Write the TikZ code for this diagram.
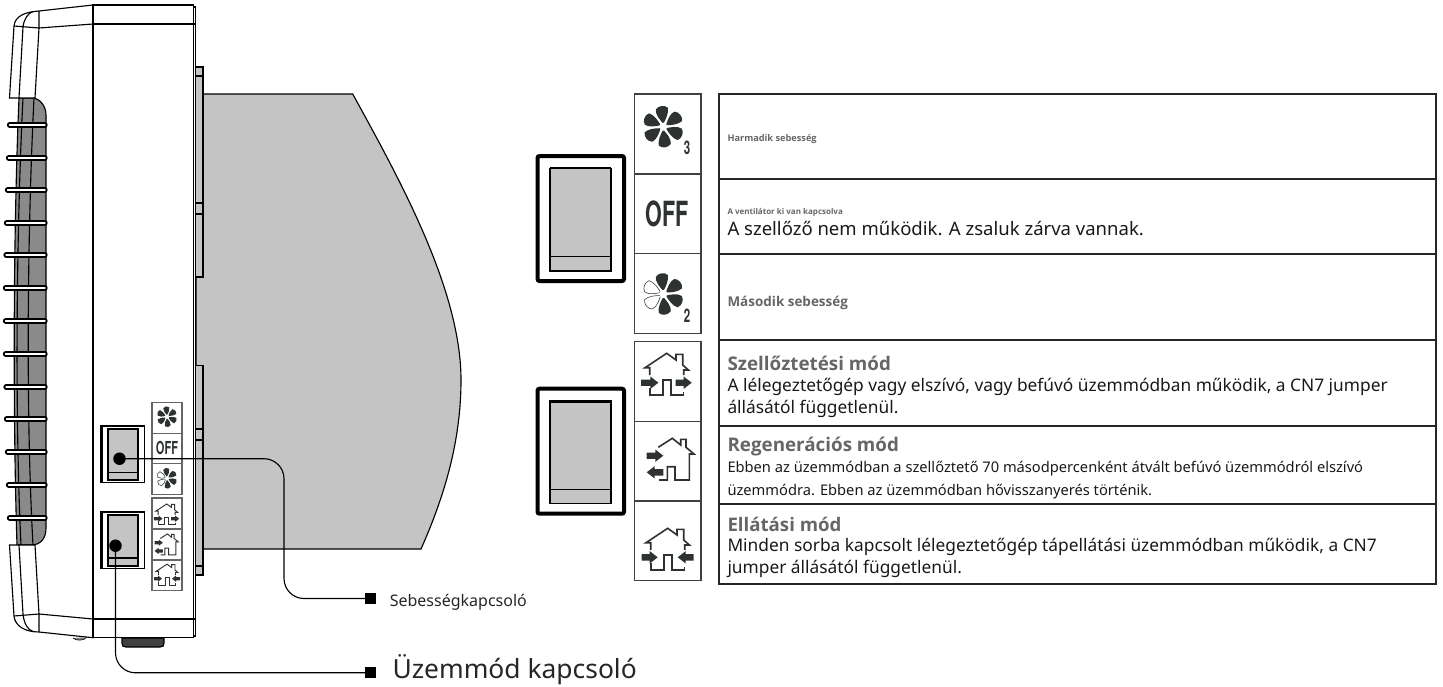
\documentclass[tikz,border=0pt]{standalone}
\usepackage{fontspec}
\setmainfont{Noto Sans}
\newfontfamily\headfont{Open Sans}
\newfontfamily\iconfont{TeX Gyre Heros}
\definecolor{panelgrey}{HTML}{C4C4C4}
\definecolor{grillgrey}{HTML}{8A8A8A}
\definecolor{inkgrey}{HTML}{2E3232}
\definecolor{headgrey}{HTML}{666666}
\tikzset{
  every picture/.style={line width=0.75pt},
  outline/.style={draw=black,line width=0.85pt},
  fin/.style={draw=black,line cap=round,line width=1.5pt,double=white,double distance=1pt},
  cellbox/.style={draw=black!75,line width=0.9pt,fill=white},
  rowbox/.style={draw=black!85,line width=0.9pt},
  plant/.style={draw=inkgrey,line width=1.2pt,line join=miter},
  solid blade/.style={fill=inkgrey},
  open blade/.style={draw=inkgrey,line width=0.4pt,fill=white},
  leader/.style={draw=black,line width=0.85pt,rounded corners=15pt},
  dotmark/.style={circle,fill=black,inner sep=0pt,minimum size=12.5*0.75pt},
  squaremark/.style={rectangle,fill=black,inner sep=0pt,minimum size=11*0.75pt},
  basetext/.style={anchor=base west,inner sep=0pt},
  callout/.style={basetext,text=black!85},
  rowhead/.style={basetext,text=headgrey},
  rowline/.style={basetext,text=black!90,font=\fontsize{13}{16}\selectfont},
  rowsmall/.style={basetext,text=black!90,font=\fontsize{11}{13}\selectfont},
}
% one fan blade pointing along x, rotated by the loop
\newcommand{\bladepath}{(3,0) .. controls (7,-3.5) and (12,-8) .. (17,-7.5) .. controls (21,-5.5) and (22,1) .. (19,4.5) .. controls (14,5.5) and (8,3) .. cycle}
\newcommand{\fanglyph}[1]{%
  \foreach \a in {30,90,270,330} {\path[solid blade,rotate=\a] \bladepath;}
  \foreach \a in {150,210} {\path[#1,rotate=\a] \bladepath;}
  \path[fill=white] (0,0) circle (4);
}
\newcommand{\arrowglyph}[4]{% tail x, tip x, y, direction
  \path[fill=inkgrey] (#1,#3-3.2) -- ({#2-#4*8},#3-3.2) -- ({#2-#4*8},#3-6.2) -- (#2,#3) -- ({#2-#4*8},#3+6.2) -- ({#2-#4*8},#3+3.2) -- (#1,#3+3.2) -- cycle;
}
\newcommand{\houseglyph}{%
  \draw[plant] (-17,0) -- (-17,-7.3) -- (-21.7,-7.3) -- (0,-21.7) -- (9.3,-15) -- (9.3,-20.7) -- (16,-20.7) -- (16,-10) -- (21.7,-5) -- (17,-5) -- (17,0);
  \draw[plant] (-16.7,13.3) -- (-16.7,20) -- (-4,20) -- (-4,5) -- (4,5) -- (4,20) -- (16.7,20) -- (16.7,16.7);
}
\newcommand{\regenglyph}{%
  \draw[plant] (-12.7,-7.7) -- (1.3,-16.7) -- (9.7,-10) -- (9.7,-15.7) -- (15,-15.7) -- (15,-7.7) -- (23,-1) -- (18.3,-1) -- (18.3,25) -- (4,25) -- (4,11.7) -- (-3.7,11.7) -- (-3.7,25) -- (-12,25);
  \arrowglyph{-24.3}{-7.7}{0.7}{1}
  \arrowglyph{-7.7}{-24.3}{17.3}{-1}
}

\begin{document}
\begin{tikzpicture}[x=0.75pt,y=0.75pt,yscale=-1,xscale=1]
  \useasboundingbox (0,0) rectangle (1443,686);

  % Grey air duct behind the unit
  \draw[outline,fill=panelgrey] (196,94) -- (352.7,94) .. controls (400,180) and (461,290) .. (461,380) .. controls (461,440) and (445,495) .. (421,549) -- (196,549) -- cycle;
  % Mounting plates
  \draw[outline,fill=panelgrey] (195.5,67) rectangle (203,277);
  \draw[outline,fill=panelgrey] (195.5,365.5) rectangle (203,575);
  \foreach \y in {76,203,214,429,440,566} {\draw[outline] (195.5,\y) -- (203,\y);}

  % Grille
  \draw[outline,fill=grillgrey] (19,98) -- (33,98) .. controls (41,99) and (46,107) .. (46,115) -- (46,528) .. controls (46,538) and (41,545) .. (31,545) -- (17,545) .. controls (13,420) and (13,240) .. (19,98) -- cycle;
  \draw[outline] (23,98) .. controls (16,240) and (15,420) .. (21,545);
  \draw[outline] (34,98) .. controls (27,240) and (26,420) .. (33,545);
  \foreach \y/\x in {125/8,158/7,190/6,223/5,255/4.5,288/4,321/4,354/4,387/4.5,419/5,452/6,485/7,518/8} {
    \draw[fin] (\x+1.5,\y) -- (45,\y);
  }

  % Top and bottom covers
  \draw[outline,fill=white] (93,5) -- (39,11) .. controls (25,12) and (15,16) .. (14,26) -- (9.5,98) -- (35,98) -- (39,28) -- (93,24) -- cycle;
  \draw[outline] (14,26) -- (39,28) -- (39,11);
  \draw[outline] (33,11.5) .. controls (28,13) and (24,19) .. (23,27) -- (19,98);
  \draw[outline,fill=white] (9.5,545) -- (14,616) .. controls (15,626) and (25,632) .. (39,632) -- (93,637.7) -- (93,619) -- (39,614) -- (35,545) -- cycle;
  \draw[outline] (14,616) -- (39,614) -- (39,632);
  \draw[outline] (19,545) -- (23,614) .. controls (24,624) and (28,630) .. (33,631.5);
  \draw[line width=0.5pt,fill=grillgrey] (73,638) .. controls (76,641) and (84,641) .. (87,637);

  % Main body
  \draw[outline,fill=white] (93,5) rectangle (193.7,637.7);
  \draw[outline] (193.7,7) -- (195.7,7) -- (195.7,636) -- (193.7,636);
  \draw[outline] (93,24) -- (195.7,24);
  \draw[outline] (93,619) -- (195.7,619);
  \draw[outline,fill=black!75] (122,638) -- (164,638) -- (164,643) .. controls (164,646) and (163,647) .. (160,647) -- (126,647) .. controls (123,647) and (122,646) .. (122,643) -- cycle;

  % Small switches on the body
  \foreach \t/\i/\l in {425.7/429/472.3,511.7/515/558} {
    \draw[outline,fill=white] (101,\t) rectangle (144.5,\t+56.8);
    \draw[line width=1.6pt] (101.5,\t+56.8) -- (101.5,\t) -- (144.5,\t);
    \draw[outline,fill=panelgrey] (108,\i) rectangle (138,\i+51);
    \draw[line width=1.4pt] (108,\i) -- (138,\i);
    \draw[outline] (108,\l) -- (138,\l);
  }

  % Small icon cells
  \foreach \y in {402.7,433.3,463.7,498,529,560} {
    \draw[cellbox,draw=black!60] (152,\y) rectangle (182,\y+30.5);
  }
  \begin{scope}[shift={(167,416.7)},scale=0.5]
    \fanglyph{solid blade}
  \end{scope}
  \draw (167,448.3) node [text=inkgrey,font=\iconfont\bfseries\fontsize{13.4}{14}\selectfont] (offsmall) {\scalebox{0.62}[1]{OFF}};
  \begin{scope}[shift={(167,478.3)},scale=0.5]
    \fanglyph{open blade}
  \end{scope}
  \begin{scope}[shift={(166.7,514.8)},scale=0.5,plant/.append style={line width=0.7pt}]
    \houseglyph
    \arrowglyph{-25.7}{-8.3}{7.7}{1}
    \arrowglyph{9}{25}{7.7}{1}
  \end{scope}
  \begin{scope}[shift={(166.7,542.3)},scale=0.5,plant/.append style={line width=0.7pt}]
    \regenglyph
  \end{scope}
  \begin{scope}[shift={(167,575)},scale=0.5,plant/.append style={line width=0.7pt}]
    \houseglyph
    \arrowglyph{-26}{-10}{7.3}{1}
    \arrowglyph{26}{10}{7.3}{-1}
  \end{scope}

  % Large switches
  \foreach \t in {156,388.7} {
    \draw[line width=3pt,rounded corners=1.5pt] (537.5,\t) rectangle (624,\t+125);
    \draw[outline,fill=panelgrey] (550,\t+12.3) rectangle (611,\t+115);
    \draw[outline] (550,\t+100.5) -- (611,\t+100.5);
  }
  \draw[line width=1.4pt] (550,168.3) -- (611,168.3);
  \draw[line width=2.2pt] (550,401.3) -- (611,401.3);

  % Large icon cells
  \foreach \y in {94,174,253.7,341.7,421.3,501} {
    \draw[cellbox] (634.3,\y) rectangle (701,\y+79.7);
  }
  \begin{scope}[shift={(663.3,126.7)}]
    \fanglyph{solid blade}
  \end{scope}
  \draw (687,147.5) node [text=inkgrey,font=\iconfont\bfseries\fontsize{14}{14}\selectfont] (digitthree) {\scalebox{0.62}[1]{3}};
  \draw (667.3,214) node [text=inkgrey,font=\iconfont\bfseries\fontsize{26}{26}\selectfont] (offlarge) {\scalebox{0.62}[1]{OFF}};
  \begin{scope}[shift={(663.3,294)}]
    \fanglyph{open blade}
  \end{scope}
  \draw (687,315.7) node [text=inkgrey,font=\iconfont\bfseries\fontsize{14}{14}\selectfont] (digittwo) {\scalebox{0.62}[1]{2}};
  \begin{scope}[shift={(666.7,375)}]
    \houseglyph
    \arrowglyph{-25.7}{-8.3}{7.7}{1}
    \arrowglyph{9}{25}{7.7}{1}
  \end{scope}
  \begin{scope}[shift={(671,455)}]
    \regenglyph
  \end{scope}
  \begin{scope}[shift={(667.7,550)}]
    \houseglyph
    \arrowglyph{-26}{-10}{7.3}{1}
    \arrowglyph{26}{10}{7.3}{-1}
  \end{scope}

  % Table rows
  \foreach \t/\b in {94/179,179/254,254/340,340/426,426/504,504/584} {
    \draw[rowbox] (719,\t) rectangle (1436,\b);
  }

  % Text Node
  \draw (727,141) node [rowhead,font=\headfont\bfseries\fontsize{6.9}{8}\selectfont] (speedthree) {Harmadik sebesség};
  \draw (727,214) node [rowhead,font=\headfont\bfseries\fontsize{6}{7}\selectfont] (fanoff) {A ventilátor ki van kapcsolva};
  \draw (727,235) node [rowline,font=\fontsize{13.9}{16}\selectfont] (fanoffline) {A szellőző nem működik. A zsaluk zárva vannak.};
  \draw (727,306) node [rowhead,font=\headfont\bfseries\fontsize{10.1}{12}\selectfont] (speedtwo) {Második sebesség};
  \draw (727,370) node [rowhead,font=\headfont\bfseries\fontsize{14.1}{16}\selectfont] (venthead) {Szellőztetési mód};
  \draw (727,391.7) node [rowline] (ventone) {A lélegeztetőgép vagy elszívó, vagy befúvó üzemmódban működik, a CN7 jumper};
  \draw (727,413.3) node [rowline] (venttwo) {állásától függetlenül.};
  \draw (727,451.7) node [rowhead,font=\headfont\bfseries\fontsize{14.1}{16}\selectfont] (regenhead) {Regenerációs mód};
  \draw (727,472.7) node [rowsmall] (regenone) {Ebben az üzemmódban a szellőztető 70 másodpercenként átvált befúvó üzemmódról elszívó};
  \draw (727,495) node [rowsmall] (regentwo) {üzemmódra. Ebben az üzemmódban hővisszanyerés történik.};
  \draw (727,531) node [rowhead,font=\headfont\bfseries\fontsize{14}{16}\selectfont] (supplyhead) {Ellátási mód};
  \draw (727,551.7) node [rowline] (supplyone) {Minden sorba kapcsolt lélegeztetőgép tápellátási üzemmódban működik, a CN7};
  \draw (727,573) node [rowline] (supplytwo) {jumper állásától függetlenül.};

  % Callouts
  \node [dotmark] (speeddot) at (119.5,458.7) {};
  \node [squaremark] (speedmark) at (370,598.5) {};
  \node [dotmark] (modedot) at (115.5,545.7) {};
  \node [squaremark] (modemark) at (370.5,672.8) {};
  \coordinate (speedbend) at (284,520);
  \draw[leader] (speeddot.center) -- (speeddot.center -| speedbend) -- (speedbend |- speedmark.center) -- (speedmark.center);
  \draw[leader] (modedot.center) |- (modemark.center);
  \draw (389.3,606.7) node [callout,font=\fontsize{12}{14}\selectfont] (speedlabel) {Sebességkapcsoló};
  \draw (392,678) node [callout,font=\fontsize{19.8}{23}\selectfont] (modelabel) {Üzemmód kapcsoló};
\end{tikzpicture}
\end{document}
